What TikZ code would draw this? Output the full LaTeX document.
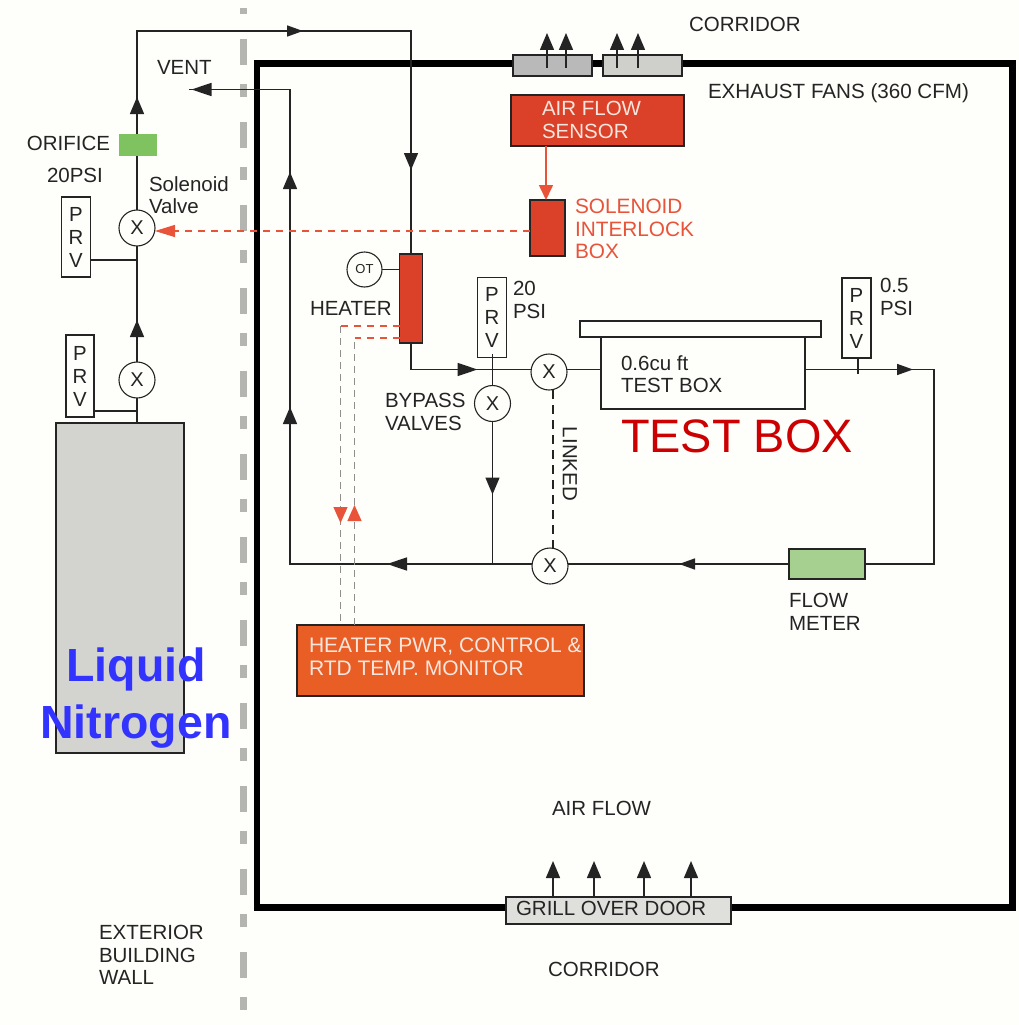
\documentclass[tikz,border=0pt]{standalone}
\usepackage{fontspec}
\setmainfont{Liberation Sans}
\usetikzlibrary{arrows.meta,decorations.markings}
\definecolor{paper}{HTML}{FEFEFB}
\definecolor{ink}{HTML}{242424}
\definecolor{wallgray}{HTML}{B4B4B0}
\definecolor{hotred}{HTML}{DB4128}
\definecolor{ctlorange}{HTML}{E85E25}
\definecolor{linered}{HTML}{E8533A}
\definecolor{lamptext}{HTML}{F7E6DE}
\definecolor{wiregray}{HTML}{8E8E8A}
\definecolor{tankgray}{HTML}{D3D4D0}
\definecolor{orificegreen}{HTML}{7FC360}
\definecolor{metergreen}{HTML}{A5D08F}
\definecolor{fandark}{HTML}{B9B9B9}
\definecolor{fanlight}{HTML}{CFCFCB}
\definecolor{grillgray}{HTML}{DFE0DC}
\definecolor{bigred}{HTML}{CC0000}
\definecolor{bigblue}{HTML}{3333FF}
\tikzset{
  ptip/.tip={Triangle[width=14pt,length=17pt]},
  htip/.tip={Triangle[width=11pt,length=16pt]},
  ltip/.tip={Triangle[width=13pt,length=20pt]},
  rtip/.tip={Triangle[width=14pt,length=16pt,color=linered]},
  midtip/.style n args={2}{postaction={decorate,decoration={markings,mark=at position #1 with {\arrow{#2}}}}},
  pipe/.style={draw=ink,line width=1.5pt},
  thinbox/.style={draw=ink,line width=1.4pt,inner sep=0pt,outer sep=0pt},
  valve/.style={circle,draw=ink,line width=1.1pt,fill=paper,minimum size=36pt,inner sep=0pt,outer sep=0pt,text=ink,font=\fontsize{20}{22}\selectfont},
  prv/.style={thinbox,fill=paper,align=center,text=ink,font=\fontsize{20.4}{23}\selectfont,minimum width=29pt,minimum height=80pt},
  lbl/.style={anchor=west,inner sep=0pt,outer sep=0pt,align=left,text=ink,font=\fontsize{20.5}{22.5}\selectfont},
  lamp/.style={lbl,text=lamptext},
  redlbl/.style={lbl,text=linered,font=\fontsize{20.8}{22.5}\selectfont},
  sigwire/.style={draw=linered,line width=1.2pt,dash pattern=on 7pt off 6pt},
  graywire/.style={draw=wiregray,line width=1.1pt,dash pattern=on 7pt off 5pt},
}
\begin{document}
\begin{tikzpicture}[x=1pt,y=-1pt]
\fill[paper] (0,0) rectangle (1019,1025);
\useasboundingbox (0,0) rectangle (1019,1025);
% building wall and room
\coordinate (wallT) at (243,8);
\coordinate (wallB) at (243,1025);
\draw[wallgray,line width=7pt,dash pattern=on 26pt off 19pt on 13pt off 25pt,dash phase=52pt] (wallT) -- (wallB);
\coordinate (roomA) at (257,63.5);
\coordinate (roomB) at (1012.5,907.5);
\draw[black,line width=6.5pt] (roomA) rectangle (roomB);
% fans and grill
\node[thinbox,fill=fandark,minimum width=79pt,minimum height=21pt] (fanL) at (552.5,65.5) {};
\node[thinbox,fill=fanlight,minimum width=79pt,minimum height=21pt] (fanR) at (642.5,65.5) {};
\foreach \n/\x in {a/547,b/566,c/617,d/638}{
  \coordinate (fan\n0) at (\x,68);
  \coordinate (fan\n1) at (\x,33);
  \draw[pipe,-{ptip}] (fan\n0) -- (fan\n1);
}
\node[thinbox,fill=grillgray,minimum width=225pt,minimum height=27pt] (grill) at (618.5,910.5) {};
\foreach \n/\x in {a/553,b/594,c/644,d/691}{
  \coordinate (gr\n0) at (\x,897);
  \coordinate (gr\n1) at (\x,861);
  \draw[pipe,-{ptip}] (gr\n0) -- (gr\n1);
}
% equipment
\node[thinbox,fill=tankgray,minimum width=128pt,minimum height=330pt] (tank) at (120,588) {};
\node[fill=orificegreen,minimum width=38pt,minimum height=22pt,inner sep=0pt,outer sep=0pt] (orifice) at (138,145) {};
\node[valve] (v1) at (137,228) {X};
\node[valve] (v2) at (137,380) {X};
\node[valve] (v3) at (492.5,403.5) {X};
\node[valve] (v4) at (549,372) {X};
\node[valve] (v5) at (550,566) {X};
\node[valve,minimum size=35pt,font=\fontsize{13}{14}\selectfont] (ot) at (364.5,269.5) {OT};
\node[prv] (prvA) at (76,237) {P\\R\\V};
\node[prv,minimum width=28pt,minimum height=82pt] (prvB) at (80,376) {P\\R\\V};
\node[prv] (prvC) at (492,317.5) {P\\R\\V};
\node[prv] (prvD) at (856.5,318) {P\\R\\V};
\node[thinbox,fill=hotred,minimum width=23pt,minimum height=89pt] (heater) at (411,298.5) {};
\node[thinbox,fill=hotred,minimum width=173pt,minimum height=51pt] (sensor) at (597.5,120.5) {};
\node[thinbox,fill=hotred,minimum width=35pt,minimum height=56pt] (lock) at (547.5,228) {};
\node[thinbox,fill=ctlorange,minimum width=287pt,minimum height=71pt] (ctl) at (440.5,660.5) {};
\node[thinbox,fill=paper,minimum width=241pt,minimum height=16pt] (lid) at (700.5,329) {};
\node[thinbox,fill=paper,minimum width=204pt,minimum height=72pt] (tbox) at (703,373) {};
\node[thinbox,fill=metergreen,minimum width=76pt,minimum height=30pt] (fm) at (827,564) {};
% junctions
\coordinate (pipeTop) at (137,31);
\coordinate (pipeRight) at (411,31);
\coordinate (jA) at (137,260);
\coordinate (jB) at (137,411);
\coordinate (heatOut) at (411,369.5);
\coordinate (rowV) at (0,369.5);
\coordinate (jC0) at (492.5,354);
\coordinate (jD0) at (858,358);
\coordinate (jD1) at (858,374);
\coordinate (loopR1) at (934,369.5);
\coordinate (loopR2) at (934,564);
\coordinate (rowB) at (0,564);
\coordinate (bypJ) at (492.5,564);
\coordinate (ventC) at (290,564);
\coordinate (ventT) at (290,89.5);
\coordinate (ventE) at (189,89.5);
\coordinate (linkX) at (553,0);
\coordinate (sensX) at (546,0);
% pipes
\draw[pipe] (v2 |- tank.north) -- (v2.south);
\draw[pipe,midtip={42pt}{ptip}] (v2.north) -- (v1.south);
\draw[pipe] (v1.north) -- (v1 |- orifice.south);
\draw[pipe,midtip={37pt}{ptip},midtip={269pt}{htip},midtip={516pt}{ptip}] (pipeTop |- orifice.north) -- (pipeTop) -- (pipeRight) -- (heater.north);
\draw[pipe] (jA -| prvA.east) -- (jA);
\draw[pipe] (jB -| prvB.east) -- (jB);
\draw[pipe] (ot.east) -- (ot.east -| heater.west);
\draw[pipe,midtip={93pt}{ltip}] (heater.south) -- (heatOut) -- (v4.west |- rowV);
\draw[pipe] (v4.east |- rowV) -- (tbox.west |- rowV);
\draw[pipe] (jC0) -- (v3.north);
\draw[pipe,midtip={73pt}{ptip}] (v3.south) -- (bypJ);
\draw[pipe] (jD0) -- (jD1);
\draw[pipe,midtip={108pt}{htip}] (tbox.east |- rowV) -- (loopR1) -- (loopR2) -- (fm.east);
\draw[pipe,midtip={110pt}{htip}] (fm.west) -- (v5.east |- rowB);
\draw[pipe,midtip={145pt}{ltip},midtip={399pt}{ptip},midtip={634pt}{ptip},midtip={815pt}{ltip}] (v5.west |- rowB) -- (ventC) -- (ventT) -- (ventE);
% signals
\draw[draw=ink,line width=1.2pt,dash pattern=on 9pt off 6pt] (linkX |- v4.south) -- (linkX |- v5.north);
\draw[linered,line width=1.6pt,-{Triangle[width=14pt,length=15pt]}] (sensX |- sensor.south) -- (sensX |- lock.north);
\coordinate (sigTip) at (155,231);
\draw[sigwire,-{Triangle[width=12pt,length=20pt]}] (lock.west |- sigTip) -- (sigTip);
\coordinate (hw1) at (340.5,326);
\coordinate (hw2) at (354.5,338);
\draw[sigwire] (heater.west |- hw1) -- (hw1);
\draw[sigwire] (heater.west |- hw2) -- (hw2);
\draw[graywire,midtip={197pt}{rtip}] (hw1) -- (hw1 |- ctl.north);
\draw[graywire,midtip={120pt}{rtip}] (hw2 |- ctl.north) -- (hw2);
% labels
\node[lbl] (tCorrT) at (689,24) {CORRIDOR};
\node[lbl,font=\fontsize{20.6}{22.5}\selectfont] (tFans) at (708,93) {EXHAUST FANS (360 CFM)};
\node[lamp] (tSensor) at (542,120) {AIR FLOW\\SENSOR};
\node[redlbl] (tLock) at (575,229) {SOLENOID\\INTERLOCK\\BOX};
\node[lbl] (tGrill) at (516,908) {GRILL OVER DOOR};
\node[lbl] (tVent) at (157,67) {VENT};
\node[lbl] (tOrifice) at (27,143) {ORIFICE};
\node[lbl] (tPsi) at (47,175) {20PSI};
\node[lbl] (tSol) at (149,195) {Solenoid\\Valve};
\node[lbl] (tHeater) at (310,308) {HEATER};
\node[lbl] (tByp) at (385,412) {BYPASS\\VALVES};
\node[lbl] (tP20) at (513,300) {20\\PSI};
\node[lbl] (tP05) at (880,297) {0.5\\PSI};
\node[lbl] (tBoxS) at (621,374) {0.6cu ft\\TEST BOX};
\node[lbl,text=bigred,font=\fontsize{46.9}{50}\selectfont] (tBox) at (621,436) {TEST BOX};
\node[inner sep=0pt,text=ink,font=\fontsize{20.5}{22.5}\selectfont,rotate=-90] (tLink) at (570,464) {LINKED};
\node[lbl] (tFm) at (789,612) {FLOW\\METER};
\node[lamp,font=\fontsize{21}{22.7}\selectfont] (tCtl) at (309,657) {HEATER PWR, CONTROL \&\\RTD TEMP. MONITOR};
\node[lbl] (tAir) at (552,808) {AIR FLOW};
\node[lbl] (tCorrB) at (548,969) {CORRIDOR};
\node[lbl] (tExt) at (99,955) {EXTERIOR\\BUILDING\\WALL};
\node[inner sep=0pt,align=center,text=bigblue,font=\fontsize{46.5}{57}\selectfont\bfseries] (tLN) at (136,698) {Liquid\\Nitrogen};
\end{tikzpicture}
\end{document}
